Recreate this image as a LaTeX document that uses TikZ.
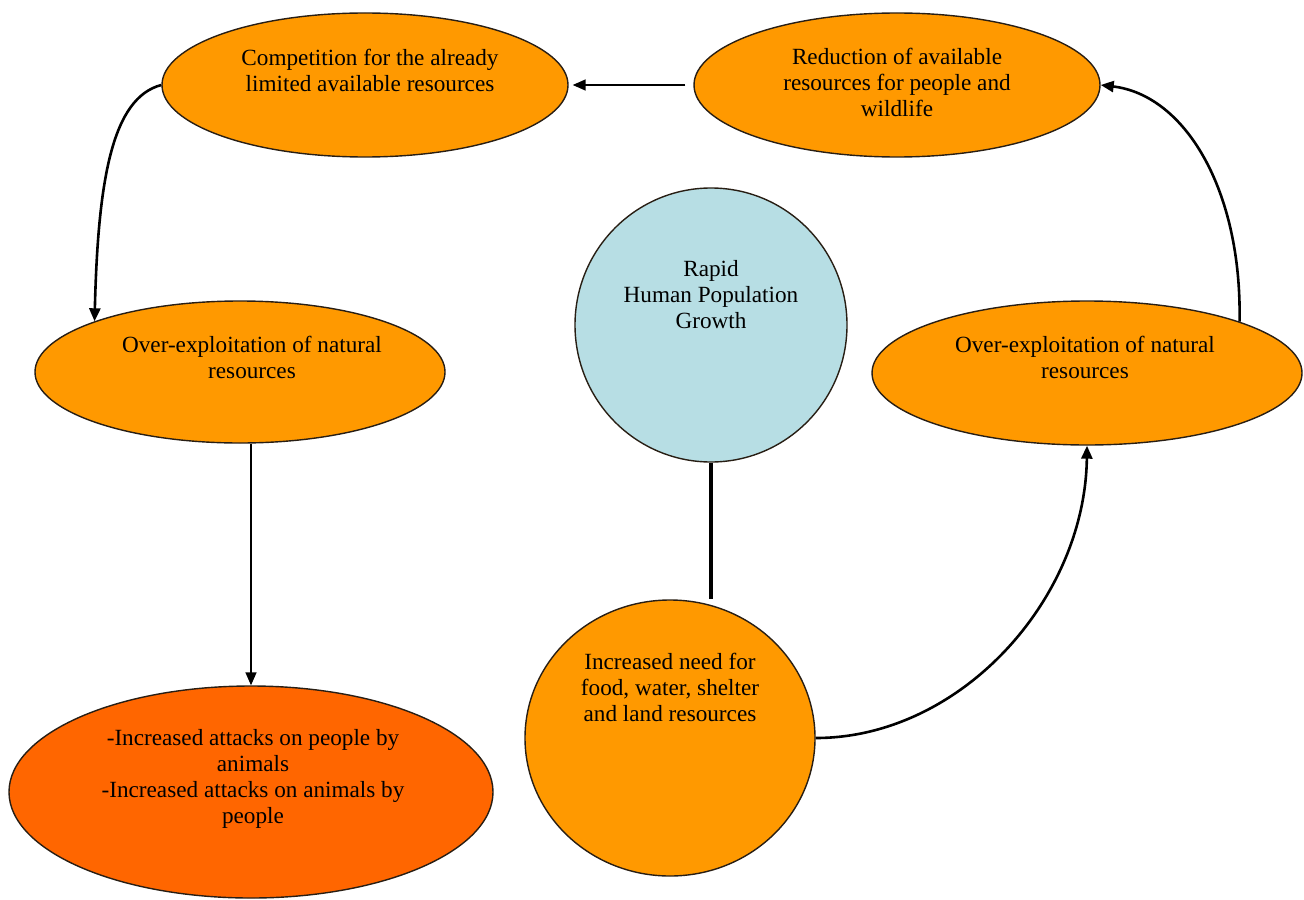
\documentclass[tikz,border=0pt]{standalone}
\usepackage{fontspec}
\setmainfont{Liberation Serif}
\usetikzlibrary{shapes.geometric,arrows.meta}
\definecolor{arancio}{RGB}{255,153,0}
\definecolor{arancioscuro}{RGB}{255,102,0}
\definecolor{azzurro}{RGB}{183,222,228}
\definecolor{bordo}{RGB}{40,30,20}

\begin{document}
\begin{tikzpicture}[x=0.5pt,y=-0.5pt,font=\fontsize{11.6}{13}\selectfont,
  bolla/.style={ellipse,draw=bordo,line width=0.7pt,fill=arancio,inner sep=0pt},
  testo/.style={align=center,inner sep=0pt},
  freccia/.style={line width=0.75pt,-{Triangle[length=6.5pt,width=5.5pt]}},
  curva/.style={line width=1.3pt,-{Triangle[length=6.5pt,width=5.5pt]}}]

\useasboundingbox (0,0) rectangle (1304,899);

% ellissi e cerchi
\node[bolla,minimum width=203pt,minimum height=72pt] (compet) at (365,85) {};
\node[bolla,minimum width=203pt,minimum height=72pt] (riduz) at (897,85) {};
\node[bolla,minimum width=205pt,minimum height=71pt] (sfruttS) at (240,372) {};
\node[bolla,minimum width=215pt,minimum height=72pt] (sfruttD) at (1087,373) {};
\node[bolla,fill=azzurro,minimum width=136pt,minimum height=137pt] (crescita) at (711,325) {};
\node[bolla,minimum width=145pt,minimum height=138pt] (bisogno) at (670,738) {};
\node[bolla,fill=arancioscuro,minimum width=242pt,minimum height=106pt] (attacchi) at (251,792) {};

% testi
\node[testo] (compet-t) at (370,70) {Competition for the already\\limited available resources};
\node[testo] (riduz-t) at (897,82) {Reduction of available\\resources for people and\\wildlife};
\node[testo] (sfruttS-t) at (252,357) {Over-exploitation of natural\\resources};
\node[testo] (sfruttD-t) at (1085,357) {Over-exploitation of natural\\resources};
\node[testo] (crescita-t) at (711,295) {Rapid\\Human Population\\Growth};
\node[testo] (bisogno-t) at (670,687) {Increased need for\\food, water, shelter\\and land resources};
\node[testo] (attacchi-t) at (253,779) {-Increased attacks on people by\\animals\\-Increased attacks on animals by\\people};

% collegamenti
\draw[line width=2.4pt] (crescita.south) -- (crescita.south |- bisogno.north);
\draw[freccia,shorten <=4pt,shorten >=2pt] (riduz.west) -- (compet.east);
\draw[freccia] (attacchi.north |- sfruttS.south) -- (attacchi.north);
\draw[curva] (compet.west) .. controls (112,98) and (98,180) .. (sfruttS.north west);
\draw[curva] (sfruttD.north east) .. controls (1242,190) and (1185,95) .. (riduz.east);
\draw[curva] (bisogno.east) .. controls (960,738) and (1085,600) .. (sfruttD.south);

\end{tikzpicture}
\end{document}
